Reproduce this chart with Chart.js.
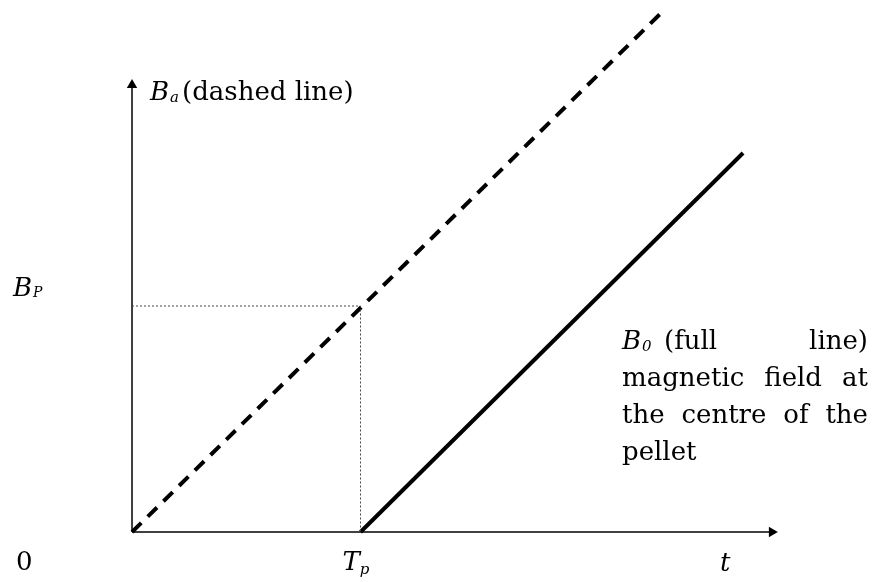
<!DOCTYPE html>
<html>
<head>
<meta charset="utf-8">
<script src="https://cdn.jsdelivr.net/npm/chart.js@4"></script>
<style>
  html, body { margin: 0; padding: 0; background: #ffffff; }
  #wrap { position: relative; width: 874px; height: 582px; }
</style>
</head>
<body>
<div id="wrap"><canvas id="c" width="874" height="582"></canvas></div>
<script>
// Schematic values (Tp = 1 on the time axis, Bp = 1 on the field axis)
const Tp = 1;
const Bp = 1;
const dashedX = [0, 2.314];        // Ba: applied field (dashed)
const dashedY = [0, 2.295];
const solidX  = [1, 2.674];        // B0: field at the centre of the pellet (full line)
const solidY  = [0, 1.677];
const guideX  = [0, 1, 1];         // dotted guides to (Tp, Bp)
const guideY  = [1, 1, 0];
const xAxisX  = [0, 2.80];
const xAxisY  = [0, 0];
const yAxisX  = [0, 0];
const yAxisY  = [0, 1.978];
const xRange  = [-0.5777, 3.247];
const yRange  = [-0.2212, 2.354];

function pts(xs, ys) { return xs.map((x, i) => ({ x: x, y: ys[i] })); }

const labelPlugin = {
  id: 'labels',
  afterDraw(chart) {
    const ctx = chart.ctx;
    const xs = chart.scales.x, ys = chart.scales.y;
    const serif = '"DejaVu Serif", serif';
    ctx.save();
    ctx.fillStyle = '#000';
    ctx.textBaseline = 'alphabetic';
    ctx.textAlign = 'left';
    function t(txt, x, y, size, italic) {
      ctx.font = (italic ? 'italic ' : '') + size + 'px ' + serif;
      ctx.fillText(txt, x, y);
      return ctx.measureText(txt).width;
    }
    // Ba (dashed line)
    let x = xs.getPixelForValue(0) + 18;
    let yTop = 100;
    x += t('B', x, yTop, 26, true);
    x += t('a', x + 1, yTop + 2, 15, true) + 4;
    t('(dashed line)', x, yTop, 26, false);
    // Bp
    const yb = ys.getPixelForValue(Bp) - 10;
    let xb = 13;
    xb += t('B', xb, yb, 26, true);
    t('P', xb + 1, yb + 1, 14, true);
    // 0
    t('0', 16, 570, 26, false);
    // Tp
    let xt = xs.getPixelForValue(Tp) - 18;
    xt += t('T', xt, 570, 26, true);
    t('p', xt, 574, 15, true);
    // t
    t('t', 720, 571, 26, true);
    // B0 (full line) ... justified block
    const left = 622, right = 868;
    const lh = 37;
    let by = 349;
    let bx = left;
    bx += t('B', bx, by, 26, true);
    t('0', bx + 1, by + 2, 15, true);
    t('(full', 664, by, 26, false);
    ctx.textAlign = 'right';
    t('line)', right, by, 26, false);
    ctx.textAlign = 'left';
    function justify(words, y) {
      ctx.font = '26px ' + serif;
      const widths = words.map(w => ctx.measureText(w).width);
      const total = widths.reduce((a, b) => a + b, 0);
      const gap = (right - left - total) / (words.length - 1);
      let px = left;
      words.forEach((w, i) => { ctx.fillText(w, px, y); px += widths[i] + gap; });
    }
    justify(['magnetic', 'field', 'at'], by + lh);
    justify(['the', 'centre', 'of', 'the'], by + 2 * lh);
    t('pellet', left, by + 3 * lh, 26, false);
    ctx.restore();
  }
};

new Chart(document.getElementById('c'), {
  type: 'scatter',
  data: {
    datasets: [
      { label: 'guides', data: pts(guideX, guideY), showLine: true, borderColor: '#444', borderWidth: 1, borderDash: [2, 2], pointRadius: 0 },
      { label: 'x axis', data: pts(xAxisX, xAxisY), showLine: true, borderColor: '#000', borderWidth: 1.5, pointRadius: [0, 6], pointStyle: 'triangle', rotation: [0, 90], backgroundColor: '#000', pointBorderColor: '#000', pointBorderWidth: 0 },
      { label: 'y axis', data: pts(yAxisX, yAxisY), showLine: true, borderColor: '#000', borderWidth: 1.5, pointRadius: [0, 6], pointStyle: 'triangle', rotation: 0, backgroundColor: '#000', pointBorderColor: '#000', pointBorderWidth: 0 },
      { label: 'Ba', data: pts(dashedX, dashedY), showLine: true, borderColor: '#000', borderWidth: 4, borderDash: [13, 9], pointRadius: 0 },
      { label: 'B0', data: pts(solidX, solidY), showLine: true, borderColor: '#000', borderWidth: 4, pointRadius: 0 }
    ]
  },
  options: {
    responsive: false,
    animation: false,
    layout: { padding: 0, autoPadding: false },
    plugins: { legend: { display: false }, tooltip: { enabled: false } },
    scales: {
      x: { type: 'linear', display: false, min: xRange[0], max: xRange[1] },
      y: { type: 'linear', display: false, min: yRange[0], max: yRange[1] }
    }
  },
  plugins: [labelPlugin]
});
</script>
</body>
</html>
